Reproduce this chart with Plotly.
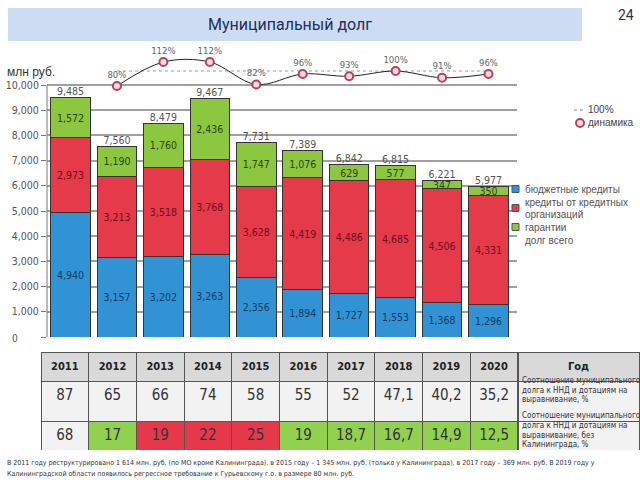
import plotly.graph_objects as go

years = ["2011", "2012", "2013", "2014", "2015", "2016", "2017", "2018", "2019", "2020"]
budget_credits = [4940, 3157, 3202, 3263, 2356, 1894, 1727, 1553, 1368, 1296]
bank_credits = [2973, 3213, 3518, 3768, 3628, 4419, 4486, 4685, 4506, 4331]
guarantees = [1572, 1190, 1760, 2436, 1747, 1076, 629, 577, 347, 350]
debt_total = [9485, 7560, 8479, 9467, 7731, 7389, 6842, 6815, 6221, 5977]
dyn_years = years[1:]
dynamics = [80, 112, 112, 82, 96, 93, 100, 91, 96]
ratio_all = ["87", "65", "66", "74", "58", "55", "52", "47,1", "40,2", "35,2"]
ratio_no_kld = ["68", "17", "19", "22", "25", "19", "18,7", "16,7", "14,9", "12,5"]
ratio_no_kld_state = ["n", "g", "r", "r", "r", "g", "g", "g", "g", "g"]
desc_rows = [
    ["Соотношение муниципального", "долга к ННД и дотациям на", "выравнивание, %"],
    ["Соотношение муниципального", "долга к ННД и дотациям на", "выравнивание, без", "Калининграда, %"],
]
y_ticks = [0, 1000, 2000, 3000, 4000, 5000, 6000, 7000, 8000, 9000, 10000]

W, H = 640, 480
def fx(x): return x / W
def fy(y): return 1 - y / H

BLUE, RED, GREEN = "#3193d3", "#e43a4a", "#8dc63f"
NARROW = "Liberation Sans Narrow, DejaVu Sans Condensed, Arial Narrow, sans-serif"
SANS = "Liberation Sans, Arial, sans-serif"

T_TOP, T_H0, T_H1, T_H2 = 352, 18, 40, 40

fig = go.Figure()

def bar(vals, color, tcolor, name):
    fig.add_trace(go.Bar(
        x=years, y=vals, name=name, marker=dict(color=color, line=dict(color="#333", width=1)),
        texttemplate="%{y:,}", textposition="inside", insidetextanchor="middle", textangle=0,
        textfont=dict(size=10.5, color=tcolor, family=NARROW), showlegend=False))

bar(budget_credits, BLUE, "#173a66", "бюджетные кредиты")
bar(bank_credits, RED, "#6e1019", "кредиты от кредитных организаций")
bar(guarantees, GREEN, "#2a4712", "гарантии")

fig.add_trace(go.Scatter(
    x=years, y=debt_total, mode="text", texttemplate="%{y:,}", textposition="top center",
    textfont=dict(size=10.5, color="#555", family=NARROW), cliponaxis=False, showlegend=False,
    name="долг всего"))

fig.add_trace(go.Scatter(
    x=[dyn_years[0], dyn_years[-1]], y=[100, 100], yaxis="y2", mode="lines",
    line=dict(color="#bdbdbd", width=1.5, dash="dot"), showlegend=False, name="100%"))

fig.add_trace(go.Scatter(
    x=dyn_years, y=dynamics, yaxis="y2", mode="lines+markers+text",
    line=dict(color="#222", width=1, shape="spline"),
    marker=dict(size=8, color="#f6dce2", line=dict(color="#b8405a", width=2)),
    text=[f"{v}%" for v in dynamics], textposition="top center",
    textfont=dict(size=9.5, color="#666", family=NARROW), cliponaxis=False,
    showlegend=False, name="динамика"))

# table
fills = {"n": "#f2f2f2", "g": "#92d050", "r": "#e5394b"}
cell_vals = [[a, b] for a, b in zip(ratio_all, ratio_no_kld)] + [["", ""]]
cell_fill = [["#f2f2f2", fills[s]] for s in ratio_no_kld_state] + [["#f2f2f2", "#f2f2f2"]]
fig.add_trace(go.Table(
    domain=dict(x=[fx(41), fx(639)], y=[fy(T_TOP + T_H0 + T_H1 + T_H2), fy(T_TOP)]),
    columnwidth=[47.7] * 10 + [121],
    header=dict(values=[f"<b>{y}</b>" for y in years] + ["<b>Год</b>"],
                fill_color="#d9d9d9", line=dict(color="#555", width=1),
                font=dict(size=11, color="#222", family=NARROW), align="center", height=T_H0),
    cells=dict(values=cell_vals, fill=dict(color=cell_fill), line=dict(color="#555", width=1),
               font=dict(size=15, color="#333", family=NARROW),
               align="center", height=T_H1)))

shapes = [
    dict(type="rect", xref="paper", yref="paper", x0=fx(8), x1=fx(582), y0=fy(41), y1=fy(8),
         fillcolor="#cddcf3", line=dict(width=0), layer="above"),
    dict(type="line", xref="paper", yref="y", x0=fx(47), x1=fx(47), y0=0, y1=10000,
         line=dict(color="#777", width=1)),
    dict(type="line", xref="paper", yref="paper", x0=fx(574), x1=fx(584), y0=fy(110), y1=fy(110),
         line=dict(color="#aaa", width=1.5, dash="dot")),
    dict(type="circle", xref="paper", yref="paper", x0=fx(576), x1=fx(584), y0=fy(127), y1=fy(119),
         fillcolor="#f6dce2", line=dict(color="#b8405a", width=2)),
]
for c, yy in [(BLUE, 189), (RED, 208), (GREEN, 227)]:
    shapes.append(dict(type="rect", xref="paper", yref="paper", x0=fx(512), x1=fx(519),
                       y0=fy(yy + 3.5), y1=fy(yy - 3.5), fillcolor=c, line=dict(color="#555", width=1)))

def ann(x, y, text, size=10, color="#444", family=SANS, anchor="left"):
    return dict(x=fx(x), y=fy(y), xref="paper", yref="paper", text=text, showarrow=False,
                xanchor=anchor, yanchor="middle", font=dict(size=size, color=color, family=family))

annotations = [
    ann(290, 24, "Муниципальный долг", 16, "#1f2f5a", "Roboto, sans-serif", "center"),
    ann(626, 15, "24", 14, "#333", "Roboto, sans-serif", "center"),
    ann(5, 72, "млн руб.", 12, "#333", SANS),
    ann(15, 338, "0", 10, "#555", NARROW, "center"),
    ann(586, 110, "100%", 10, "#444", SANS),
    ann(586, 123, "динамика", 10, "#444", SANS),
    ann(523, 189, "бюджетные кредиты", 10, "#555", SANS),
    ann(523, 202, "кредиты от кредитных", 10, "#555", SANS),
    ann(523, 214, "организаций", 10, "#555", SANS),
    ann(523, 227, "гарантии", 10, "#555", SANS),
    ann(523, 240, "долг всего", 10, "#555", SANS),
    ann(5, 463, "В 2011 году реструктурировано 1 614 млн. руб. (по МО кроме Калининграда), в 2015 году – 1 345 млн. руб. (только у Калининграда), в 2017 году – 369 млн. руб. В 2019 году у", 7, "#333", NARROW),
    ann(5, 474, "Калининградской области появилось регрессное требование к Гурьевскому г.о. в размере 80 млн. руб.", 7, "#333", NARROW),
]
row_tops = [T_TOP + T_H0, T_TOP + T_H0 + T_H1]
row_hs = [T_H1, T_H2]
for lines, top, h in zip(desc_rows, row_tops, row_hs):
    step = 9.5
    y0 = top + h / 2 - step * (len(lines) - 1) / 2
    for i, ln in enumerate(lines):
        annotations.append(ann(520, y0 + i * step, ln, 8, "#333", NARROW))

fig.update_layout(
    width=W, height=H, margin=dict(l=0, r=0, t=0, b=0),
    paper_bgcolor="white", plot_bgcolor="white",
    barmode="stack", bargap=0.15, showlegend=False,
    uniformtext=dict(minsize=10, mode="show"),
    xaxis=dict(domain=[fx(47), fx(517)], type="category", showticklabels=False, showgrid=False,
               zeroline=False, showline=False, ticks=""),
    yaxis=dict(domain=[fy(337), fy(50)], range=[0, 287 / 25.2 * 1000], tickvals=y_ticks,
               ticktext=["" if v == 0 else f"{v:,}" for v in y_ticks],
               showgrid=True, gridcolor="#a0a0a0", gridwidth=1.5, zeroline=False, showline=False,
               ticks="outside", ticklen=5, tickcolor="#777",
               tickfont=dict(size=10.5, color="#555", family=NARROW)),
    yaxis2=dict(overlaying="y", range=[-254.67, 128], visible=False),
    shapes=shapes, annotations=annotations,
)

fig.write_html("out.html", config={"displayModeBar": False},
               post_script="document.body.style.margin='0px';")
